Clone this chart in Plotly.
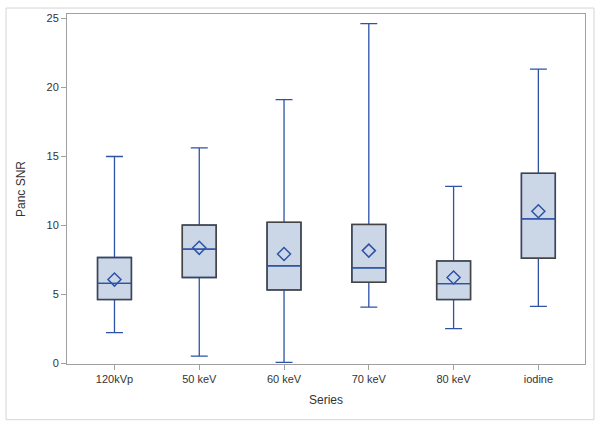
import plotly.graph_objects as go

# Panc SNR summary stats per series
series = ["120kVp", "50 keV", "60 keV", "70 keV", "80 keV", "iodine"]
q_min = [2.2, 0.5, 0.05, 4.05, 2.5, 4.1]
q1 = [4.6, 6.2, 5.3, 5.85, 4.6, 7.6]
median = [5.78, 8.25, 7.05, 6.9, 5.75, 10.45]
q3 = [7.65, 10.0, 10.2, 10.05, 7.4, 13.75]
q_max = [14.97, 15.6, 19.1, 24.6, 12.8, 21.3]
mean = [6.05, 8.35, 7.9, 8.15, 6.2, 11.0]

BOX_W = 0.4
FILL = "#cbd6e6"
BLUE = "#2d52a8"
EDGE = "#444444"
AXIS = "#a0a0a0"
TXT = "#333333"

fig = go.Figure()

# whiskers + median + fill
fig.add_trace(go.Box(
    x=series,
    q1=q1, median=median, q3=q3,
    lowerfence=q_min, upperfence=q_max,
    width=BOX_W,
    whiskerwidth=0.5,
    fillcolor=FILL,
    line=dict(color=BLUE, width=1.3),
    boxpoints=False,
    hoverinfo="skip",
    showlegend=False,
))

# mean markers
fig.add_trace(go.Scatter(
    x=series, y=mean,
    mode="markers",
    marker=dict(symbol="diamond-open", size=10, color=BLUE, line=dict(width=1.5, color=BLUE)),
    showlegend=False,
    hoverinfo="skip",
))

# dark box outline + blue median on top (built from the stats above)
for i in range(len(series)):
    fig.add_shape(type="rect", xref="x", yref="y",
                  x0=i - BOX_W / 2, x1=i + BOX_W / 2, y0=q1[i], y1=q3[i],
                  line=dict(color=EDGE, width=1.5), layer="above")
    fig.add_shape(type="line", xref="x", yref="y",
                  x0=i - BOX_W / 2, x1=i + BOX_W / 2, y0=median[i], y1=median[i],
                  line=dict(color=BLUE, width=1.3), layer="above")

# outer frame around the whole graph
L, R, T, B = 67, 17, 12, 63
pw, ph = 602 - L - R, 427 - T - B
fig.add_shape(type="rect", xref="paper", yref="paper",
              x0=(6 - L) / pw, x1=(594 - L) / pw,
              y0=(427 - 420 - B) / ph, y1=(427 - 6 - B) / ph,
              line=dict(color="#d4d4d4", width=1), layer="above")

fig.update_layout(
    width=602, height=427,
    margin=dict(l=L, r=R, t=T, b=B),
    paper_bgcolor="white",
    plot_bgcolor="white",
    font=dict(family="Liberation Sans, Arial, sans-serif", size=12, color=TXT),
    xaxis=dict(
        type="category",
        range=[-0.56, 5.55],
        showline=True, mirror=True, linecolor=AXIS, linewidth=1,
        ticks="outside", ticklen=5, tickcolor=AXIS,
        showgrid=False, zeroline=False,
        title=dict(text="Series", standoff=11, font=dict(size=12)),
        tickfont=dict(size=11),
    ),
    yaxis=dict(
        range=[-0.07, 25.3],
        tickvals=[0, 5, 10, 15, 20, 25],
        showline=True, mirror=True, linecolor=AXIS, linewidth=1,
        ticks="outside", ticklen=5, tickcolor=AXIS,
        showgrid=False, zeroline=False,
        title=dict(text="Panc SNR", standoff=18, font=dict(size=12)),
        tickfont=dict(size=11),
    ),
)

fig.write_html("out.html", config={"displayModeBar": False},
               post_script="document.body.style.margin='0';")
